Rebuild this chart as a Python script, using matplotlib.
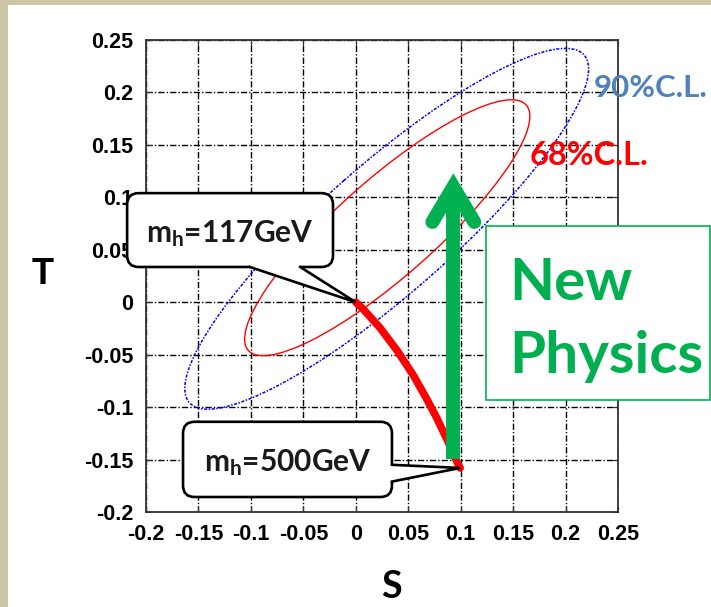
import numpy as np
import matplotlib
matplotlib.use("Agg")
import matplotlib.pyplot as plt
from matplotlib.patches import Ellipse, FancyBboxPatch, Polygon, Rectangle

# axis ticks (S and T share the same range)
tick_values = [-0.2, -0.15, -0.1, -0.05, 0, 0.05, 0.1, 0.15, 0.2, 0.25]
tick_labels = ["-0.2", "-0.15", "-0.1", "-0.05", "0", "0.05", "0.1", "0.15", "0.2", "0.25"]

# SM Higgs prediction, m_h = 117 GeV -> 500 GeV
higgs_s = [0.0, 0.007, 0.023, 0.039, 0.0545, 0.0675, 0.077, 0.088, 0.0977, 0.0995]
higgs_t = [0.0, -0.0065, -0.0243, -0.0455, -0.069, -0.092, -0.110, -0.133, -0.155, -0.158]

# confidence contours: centre, half extent in (S, T), correlation
cl68_center = (0.030, 0.071)
cl68_half = (0.136, 0.122)
cl68_rho = 0.87
cl90_center = (0.0295, 0.070)
cl90_half = (0.1925, 0.172)
cl90_rho = 0.885

# "new physics" arrow: shaft bottom, head vertex, head arm ends
arrow_s = 0.093
arrow_bottom = -0.149
arrow_vertex = 0.110
arrow_arm_t = 0.0765
arrow_arm_ds = 0.020

GREEN = "#00b050"


def contour_ellipse(center, half, rho, **kw):
    a, b = half
    cov = np.array([[a * a, rho * a * b], [rho * a * b, b * b]])
    vals, vecs = np.linalg.eigh(cov)
    angle = np.degrees(np.arctan2(vecs[1, 1], vecs[0, 1]))
    return Ellipse(center, 2 * np.sqrt(vals[1]), 2 * np.sqrt(vals[0]),
                   angle=angle, fill=False, **kw)


def callout(ax, text, box, base1, base2, tip, inward):
    x0, y0, x1, y1 = box
    ax.add_patch(FancyBboxPatch((x0, y0), x1 - x0, y1 - y0,
                                boxstyle="round,pad=0,rounding_size=0.011",
                                fc="white", ec="black", lw=1.9,
                                zorder=6, clip_on=False))
    dx, dy = inward
    pts = [(base1[0] + dx, base1[1] + dy), base1, tip, base2,
           (base2[0] + dx, base2[1] + dy)]
    ax.add_patch(Polygon(pts, closed=True, fc="white", ec="none",
                         zorder=7, clip_on=False))
    ax.plot([base1[0], tip[0], base2[0]], [base1[1], tip[1], base2[1]],
            color="black", lw=1.9, zorder=8, clip_on=False,
            solid_joinstyle="miter")
    ax.text((x0 + x1) / 2, (y0 + y1) / 2 - 0.003, text, ha="center", va="center",
            fontsize=21.5, family="Lato", fontweight="bold", color="#1a1a1a",
            zorder=9, clip_on=False)


fig = plt.figure(figsize=(7.11, 6.07), dpi=100)
fig.patches.append(Rectangle((0, 0), 8 / 711, 1, transform=fig.transFigure,
                             fc="#cdc7a7", ec="none"))
fig.patches.append(Rectangle((0, 1 - 5 / 607), 1, 5 / 607, transform=fig.transFigure,
                             fc="#cdc7a7", ec="none"))

ax = fig.add_axes([146 / 711, 95 / 607, 472 / 711, 472 / 607])
ax.set_xlim(-0.2, 0.25)
ax.set_ylim(-0.2, 0.25)
ax.set_xticks(tick_values)
ax.set_xticklabels(tick_labels)
ax.set_yticks(tick_values)
ax.set_yticklabels(tick_labels)
ax.tick_params(direction="in", length=4, top=True, right=True, pad=9,
               labelsize=15.5, color="#333333")
for lab in ax.get_xticklabels() + ax.get_yticklabels():
    lab.set_family("Liberation Sans")
    lab.set_fontweight("bold")
for sp in ax.spines.values():
    sp.set_color("#333333")
    sp.set_linewidth(1.3)
ax.grid(True, color="black", lw=1.0, linestyle=(0, (4.5, 1.5, 1, 1.5)))
ax.set_axisbelow(True)

# contours
ax.add_patch(contour_ellipse(cl90_center, cl90_half, cl90_rho, ec="blue",
                             lw=1.1, linestyle=(0, (2, 1, 1, 1)), zorder=3))
ax.add_patch(contour_ellipse(cl68_center, cl68_half, cl68_rho, ec="red",
                             lw=1.0, zorder=3))
ax.text(0.227, 0.1957, "90%C.L.", color="#4f81bd", fontsize=22.5, family="Lato",
        fontweight="bold", va="baseline", ha="left", clip_on=False, zorder=4)
ax.text(0.166, 0.131, "68%C.L.", color="red", fontsize=23.5, family="Lato",
        fontweight="bold", va="baseline", ha="left", zorder=4)

# SM Higgs line
ax.plot(higgs_s, higgs_t, color="red", lw=5.5, solid_capstyle="round",
        solid_joinstyle="round", zorder=4)

# new physics box
ax.add_patch(Rectangle((0.124, -0.0932), 0.2137, 0.1659, fc="white", ec=GREEN,
                       lw=1.2, zorder=5, clip_on=False))
ax.text(0.146, 0.0021, "New", color=GREEN, fontsize=42, family="Lato",
        fontweight="bold", va="baseline", ha="left", zorder=6, clip_on=False)
ax.text(0.146, -0.0674, "Physics", color=GREEN, fontsize=42, family="Lato",
        fontweight="bold", va="baseline", ha="left", zorder=6, clip_on=False)

# arrow
ax.plot([arrow_s, arrow_s], [arrow_bottom, arrow_vertex], color=GREEN, lw=10,
        solid_capstyle="butt", zorder=6)
ax.plot([arrow_s - arrow_arm_ds, arrow_s, arrow_s + arrow_arm_ds],
        [arrow_arm_t, arrow_vertex, arrow_arm_t], color=GREEN, lw=10,
        solid_capstyle="round", solid_joinstyle="miter", zorder=6)

# callouts
callout(ax, r"$\mathregular{m_h}$=117GeV", (-0.218, 0.0336, -0.0217, 0.104),
        (-0.101, 0.0336), (-0.053, 0.0336), (higgs_s[0], higgs_t[0]), (0, 0.005))
callout(ax, r"$\mathregular{m_h}$=500GeV", (-0.1647, -0.1857, 0.0345, -0.114),
        (0.0345, -0.155), (0.0345, -0.171), (higgs_s[-1], higgs_t[-1]), (-0.005, 0))

ax.set_ylabel("T", rotation=0, fontsize=26, fontweight="bold",
              family="Liberation Sans", ha="center", va="center")
ax.yaxis.set_label_coords(-0.218, 0.504)
ax.set_xlabel("S", fontsize=27, fontweight="bold", family="Lato",
              ha="center", va="center")
ax.xaxis.set_label_coords(0.521, -0.159)

fig.savefig("out.png", dpi=100)
